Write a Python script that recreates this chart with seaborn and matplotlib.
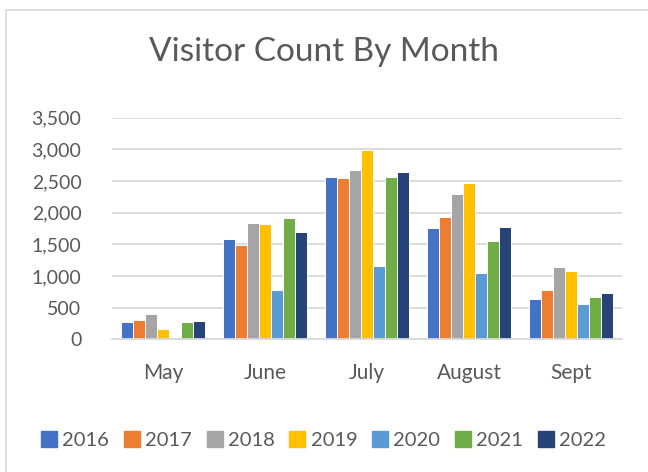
import pandas as pd
import matplotlib.pyplot as plt
import seaborn as sns
from matplotlib.lines import Line2D

# Data
months = ["May", "June", "July", "August", "Sept"]
years = ["2016", "2017", "2018", "2019", "2020", "2021", "2022"]
v2016 = [274, 1579, 2563, 1758, 637]
v2017 = [305, 1489, 2547, 1937, 774]
v2018 = [395, 1832, 2679, 2295, 1147]
v2019 = [168, 1816, 2995, 2474, 1084]
v2020 = [0, 774, 1158, 1047, 558]
v2021 = [274, 1911, 2558, 1553, 663]
v2022 = [289, 1689, 2647, 1768, 732]
colors = ["#4472C4", "#ED7D31", "#A5A5A5", "#FFC000", "#5B9BD5", "#70AD47", "#264478"]

series = [v2016, v2017, v2018, v2019, v2020, v2021, v2022]
rows = []
for year, vals in zip(years, series):
    for m, v in zip(months, vals):
        rows.append({"Month": m, "Year": year, "Visitors": v})
df = pd.DataFrame(rows)

sns.set_style("white")
plt.rcParams["font.family"] = ["Lato", "DejaVu Sans"]
text_color = "#595959"

fig = plt.figure(figsize=(6.48, 4.72), dpi=100)
ax = fig.add_axes([112 / 648, 1 - 339.3 / 472, 510 / 648, 221.6 / 472])

sns.barplot(data=df, x="Month", y="Visitors", hue="Year", palette=colors,
            saturation=1, width=0.83, edgecolor="white", linewidth=0.7,
            ax=ax, legend=False)

ax.set_ylim(0, 3500)
ax.set_xlim(-0.5, 4.5)
ax.set_yticks(range(0, 3501, 500))
ax.set_yticklabels([f"{t:,}" for t in range(0, 3501, 500)])
ax.yaxis.grid(True, color="#D9D9D9", linewidth=1.3)
ax.set_axisbelow(True)
for s in ["top", "right", "left"]:
    ax.spines[s].set_visible(False)
ax.spines["bottom"].set_color("#D9D9D9")
ax.spines["bottom"].set_linewidth(1.3)
ax.tick_params(axis="y", length=0, pad=22, labelsize=14, labelcolor=text_color)
ax.tick_params(axis="x", length=0, pad=17, labelsize=15, labelcolor=text_color)
ax.set_xlabel("")
ax.set_ylabel("")

fig.text(0.5, 1 - 52 / 472, "Visitor Count By Month", ha="center", va="center",
         fontsize=24, color=text_color)

handles = [Line2D([0], [0], marker="s", linestyle="", markersize=11,
                  markerfacecolor=c, markeredgecolor=c) for c in colors]
fig.legend(handles, years, loc="center", bbox_to_anchor=(0.5, 1 - 440 / 472),
           ncol=7, frameon=False, fontsize=14.5, labelcolor=text_color,
           handlelength=0.7, handletextpad=0.3, columnspacing=0.78)

# chart border (left and top edges visible)
fig.add_artist(Line2D([6 / 648, 6 / 648], [0, 1 - 10 / 472], color="#D9D9D9", linewidth=1.2))
fig.add_artist(Line2D([6 / 648, 1], [1 - 10 / 472, 1 - 10 / 472], color="#D9D9D9", linewidth=1.2))

plt.savefig("out.png", dpi=100)
